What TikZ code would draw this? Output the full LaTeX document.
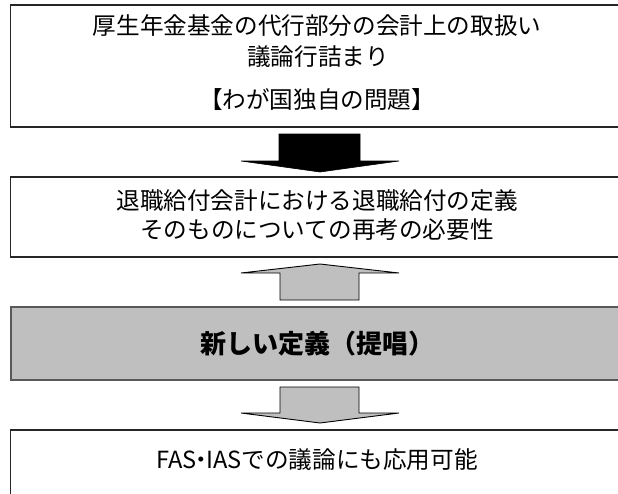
\documentclass[tikz,border=0pt]{standalone}
\usepackage{fontspec}
\setmainfont{Noto Sans CJK JP}
\begin{document}
\begin{tikzpicture}[x=1pt,y=-1pt,
  box/.style={draw=black!85,line width=1.3pt,fill=white},
  graybox/.style={draw=black!65,line width=2pt,fill=black!25},
  txt/.style={font=\fontsize{23.6}{28}\selectfont,inner sep=0pt,anchor=center},
  bigtxt/.style={font=\fontsize{26}{30}\selectfont\bfseries,inner sep=0pt,anchor=center},
  blackarrow/.style={fill=black,draw=black,line width=0.6pt},
  grayarrow/.style={fill=black!25,draw=black,line width=0.9pt}]
\useasboundingbox (0,0) rectangle (618,493);
\clip (0,0) rectangle (618,493);
\fill[white] (0,0) rectangle (618,493);
% boxes
\draw[box] (10.5,5) rectangle (630,127);
\draw[box] (10.5,177) rectangle (630,257);
\draw[graybox] (10.5,307) rectangle (630,380);
\draw[box] (10.5,430) rectangle (630,520);
% texts
\node[txt] (t1a) at (317,26) {厚生年金基金の代行部分の会計上の取扱い};
\node[txt] (t1b) at (318,57) {議論行詰まり};
\node[txt] (t1c) at (317,100) {【わが国独自の問題】};
\node[txt] (t2a) at (317,201) {退職給付会計における退職給付の定義};
\node[txt] (t2b) at (317,230) {そのものについての再考の必要性};
\node[bigtxt] (t3) at (317,344) {新しい定義（提唱）};
\node[txt] (t4) at (317,460) {FAS\makebox[0.4em]{・}IASでの議論にも応用可能};
% arrows
\draw[blackarrow] (279,134) -- (360,134) -- (360,161) -- (399,161) -- (320,172) -- (241,161) -- (279,161) -- cycle;
\draw[grayarrow] (280,300) -- (359,300) -- (359,273) -- (399,273) -- (320,264) -- (241,273) -- (280,273) -- cycle;
\draw[grayarrow] (280,387) -- (359,387) -- (359,413) -- (399,413) -- (320,423) -- (241,413) -- (280,413) -- cycle;
\end{tikzpicture}
\end{document}
